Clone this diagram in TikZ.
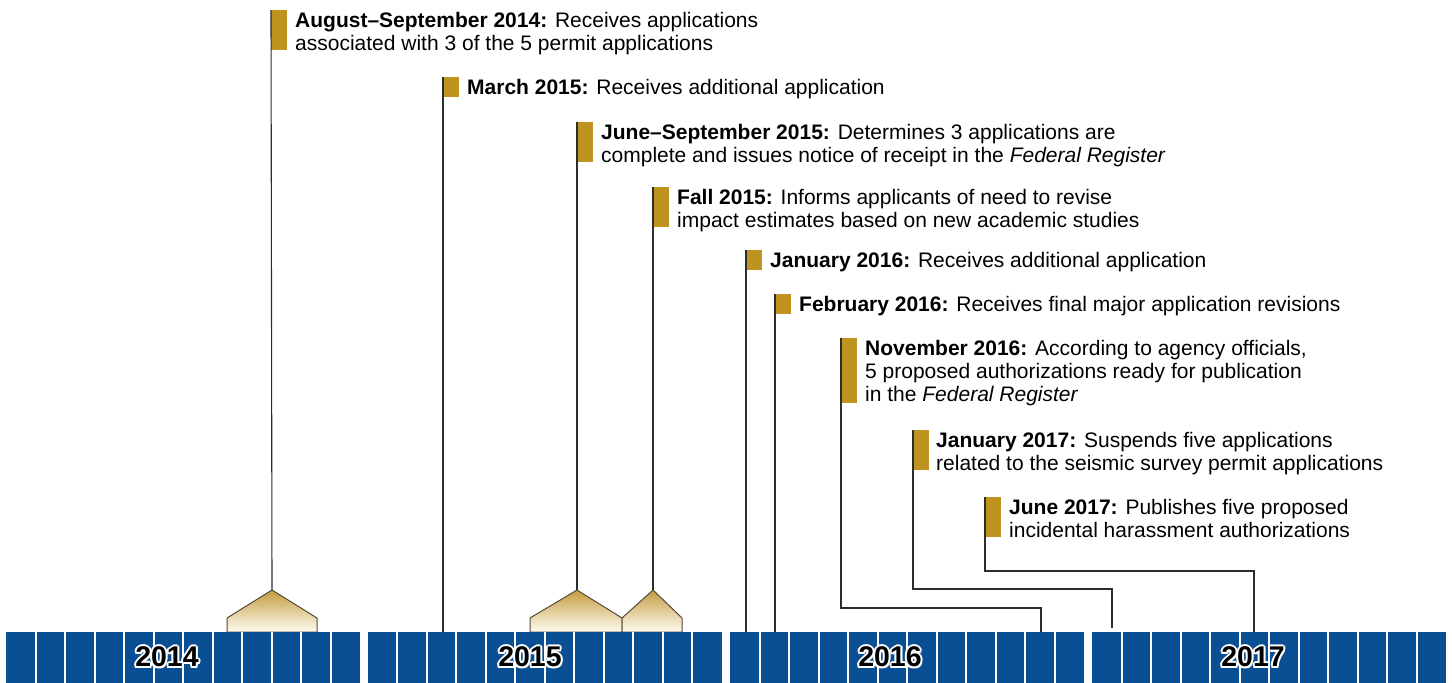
\documentclass[tikz,border=0pt]{standalone}
\usepackage{fontspec}
\setmainfont{Liberation Sans}
\definecolor{gold}{RGB}{190,148,30}
\definecolor{barblue}{RGB}{10,78,148}
\definecolor{connc}{RGB}{45,45,45}
\definecolor{housetop}{RGB}{196,156,64}
\definecolor{housebot}{RGB}{255,252,242}
\definecolor{houseedge}{RGB}{85,75,55}
\newcommand\wc[3]{\rlap{\hspace*{#1}\raisebox{#2}{\textcolor{white}{#3}}}}
\newcommand\outlined[1]{\wc{2pt}{0pt}{#1}\wc{-2pt}{0pt}{#1}\wc{0pt}{2pt}{#1}\wc{0pt}{-2pt}{#1}\wc{1.5pt}{1.5pt}{#1}\wc{-1.5pt}{1.5pt}{#1}\wc{1.5pt}{-1.5pt}{#1}\wc{-1.5pt}{-1.5pt}{#1}#1}
\begin{document}
\begin{tikzpicture}[x=1pt,y=-1pt,
  flag/.style={fill=gold, draw=none, minimum width=16pt, inner sep=0pt, outer sep=0pt, anchor=north west},
  evtext/.style={anchor=north west, align=left, inner sep=0pt, font=\fontsize{21}{23}\selectfont},
  connline/.style={draw=connc, line width=1.1pt},
  house/.style={draw=houseedge, line width=1pt, top color=housetop, bottom color=housebot},
  yearlbl/.style={font=\fontsize{28.5}{30}\selectfont\bfseries, inner sep=0pt, text=black}]
\useasboundingbox (0,0) rectangle (1452,683);

% houses
\path[house] (227,632) -- (227,618) -- (272,590) -- (317,618) -- (317,632) -- cycle;
\path[house] (530,632) -- (530,618) -- (577,590) -- (622,618) -- (622,632) -- cycle;
\path[house] (622,632) -- (622,618) -- (653,590) -- (682,618) -- (682,632) -- cycle;

% end points
\coordinate (p1) at (272,590);
\coordinate (e2) at (443,632);
\coordinate (p3) at (577,590);
\coordinate (p4) at (653,590);
\coordinate (e5) at (746,632);
\coordinate (e6) at (775,632);
\coordinate (b7) at (1041,608);
\coordinate (e7) at (1041,632);
\coordinate (b8) at (1112,589);
\coordinate (e8) at (1112,628);
\coordinate (b9) at (1254,571);
\coordinate (e9) at (1254,632);

% flags
\node[flag, minimum height=40pt] (f1) at (271,10) {};
\node[flag, minimum height=20pt] (f2) at (443,77) {};
\node[flag, minimum height=40pt] (f3) at (577,122) {};
\node[flag, minimum height=40pt] (f4) at (653,187) {};
\node[flag, minimum height=20pt] (f5) at (746,250) {};
\node[flag, minimum height=20pt] (f6) at (775,294) {};
\node[flag, minimum height=65pt] (f7) at (841,338) {};
\node[flag, minimum height=40pt] (f8) at (913,430) {};
\node[flag, minimum height=40pt] (f9) at (985,497) {};

% connectors
\draw[connline] (f1.north west) -- (p1);
\draw[connline] (f2.north west) -- (e2);
\draw[connline] (f3.north west) -- (p3);
\draw[connline] (f4.north west) -- (p4);
\draw[connline] (f5.north west) -- (e5);
\draw[connline] (f6.north west) -- (e6);
\draw[connline] (f7.north west) |- (b7) -- (e7);
\draw[connline] (f8.north west) |- (b8) -- (e8);
\draw[connline] (f9.north west) |- (b9) -- (e9);

% texts
\node[evtext] (t1) at (295,11.7) {\textbf{August–September 2014:} Receives applications\\associated with 3 of the 5 permit applications};
\node[evtext] (t2) at (467,78.7) {\textbf{March 2015:} Receives additional application};
\node[evtext] (t3) at (601,123.7) {\textbf{June–September 2015:} Determines 3 applications are\\complete and issues notice of receipt in the \textit{Federal Register}};
\node[evtext] (t4) at (677,188.7) {\textbf{Fall 2015:} Informs applicants of need to revise\\impact estimates based on new academic studies};
\node[evtext] (t5) at (770,251.7) {\textbf{January 2016:} Receives additional application};
\node[evtext] (t6) at (799,295.7) {\textbf{February 2016:} Receives final major application revisions};
\node[evtext] (t7) at (865,339.7) {\textbf{November 2016:} According to agency officials,\\5 proposed authorizations ready for publication\\in the \textit{Federal Register}};
\node[evtext] (t8) at (936,431.7) {\textbf{January 2017:} Suspends five applications\\related to the seismic survey permit applications};
\node[evtext] (t9) at (1009,498.7) {\textbf{June 2017:} Publishes five proposed\\incidental harassment authorizations};

% timeline bar
\foreach \x in {6,367.5,730,1092} {
  \fill[barblue] (\x,632) rectangle ({\x+354},683);
  \foreach \i in {1,...,11} {
    \draw[white, line width=2pt] ({\x+\i*29.5},632) -- ({\x+\i*29.5},683);
  }
}

% year labels
\node[yearlbl] (y14) at (167,657) {\outlined{2014}};
\node[yearlbl] (y15) at (530,657) {\outlined{2015}};
\node[yearlbl] (y16) at (890,657) {\outlined{2016}};
\node[yearlbl] (y17) at (1253,657) {\outlined{2017}};
\end{tikzpicture}
\end{document}
